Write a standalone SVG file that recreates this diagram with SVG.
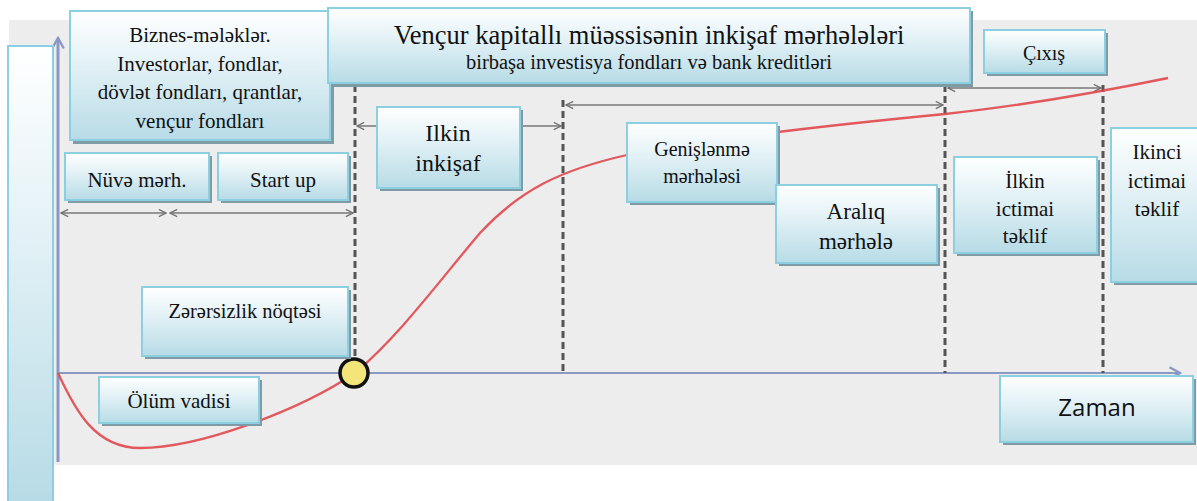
<svg xmlns="http://www.w3.org/2000/svg" width="1197" height="501" viewBox="0 0 1197 501">
<defs>
<linearGradient id="bg" x1="0" y1="0" x2="0" y2="1">
<stop offset="0" stop-color="#ffffff"/>
<stop offset="0.45" stop-color="#e0f0f5"/>
<stop offset="1" stop-color="#b7dbe6"/>
</linearGradient>
<marker id="ah" viewBox="0 0 10 10" refX="9" refY="5" markerWidth="9" markerHeight="9" orient="auto-start-reverse" markerUnits="userSpaceOnUse">
<path d="M1,1 L9,5 L1,9" fill="none" stroke="#6f6f6f" stroke-width="1.4"/>
</marker>
<marker id="axh" viewBox="0 0 12 12" refX="10" refY="6" markerWidth="14" markerHeight="14" orient="auto" markerUnits="userSpaceOnUse">
<path d="M1,1 L10,6 L1,11" fill="none" stroke="#8a98c4" stroke-width="2"/>
</marker>
</defs>
<style>
.box{fill:url(#bg);stroke:#8ccfe0;stroke-width:2}
.sh{fill:#7f9ba6}
.t{font-family:"Liberation Serif","DejaVu Serif","Times New Roman",serif;fill:#111;text-anchor:middle}
.s{font-family:"Open Sans","Liberation Sans",Arial,sans-serif;fill:#111;text-anchor:middle}
.dash{stroke:#555;stroke-width:3;stroke-dasharray:7,4;fill:none}
.dim{stroke:#777;stroke-width:1.5;fill:none;marker-start:url(#ah);marker-end:url(#ah)}
</style>
<rect x="9" y="20" width="1188" height="445" fill="#ededed"/>
<g id="connectors">
<line x1="58" y1="462" x2="58" y2="38" stroke="#8a98c4" stroke-width="3" marker-end="url(#axh)"/>
<line x1="58" y1="373" x2="1180" y2="373" stroke="#8a98c4" stroke-width="2" marker-end="url(#axh)"/>
<line class="dash" x1="355" y1="85" x2="355" y2="373"/>
<line class="dash" x1="563" y1="100" x2="563" y2="373"/>
<line class="dash" x1="945" y1="85" x2="945" y2="373"/>
<line class="dash" x1="1103" y1="85" x2="1103" y2="373"/>
<line class="dim" x1="61" y1="213" x2="166" y2="213"/>
<line class="dim" x1="170" y1="213" x2="353" y2="213"/>
<line class="dim" x1="357" y1="126" x2="561" y2="126"/>
<line class="dim" x1="566" y1="105" x2="943" y2="105"/>
<line class="dim" x1="948" y1="88" x2="1101" y2="88"/>
<path d="M58,373 C75,410 95,448 140,448 C200,448 300,410 355,373 C400,335 440,280 480,233 C520,190 560,170 627,155 C700,140 800,128 945,114 C1020,106 1100,92 1168,78" fill="none" stroke="#e0474c" stroke-width="2.3" opacity="0.9"/>
</g>
<g id="breakeven">
<circle cx="354" cy="373" r="14" fill="#f3e57a" stroke="#111" stroke-width="3.5"/>
</g>
<g id="left-box">
<rect class="box" x="8" y="46" width="45" height="456"/>
</g>
<g id="investors">
<rect class="sh" x="73" y="14" width="261" height="130"/>
<rect class="box" x="70" y="11" width="260" height="129"/>
<text class="t" font-size="21" x="200" y="42">Biznes-mələklər.</text>
<text class="t" font-size="21" x="200" y="71">Investorlar, fondlar,</text>
<text class="t" font-size="21" x="200" y="99">dövlət fondları, qrantlar,</text>
<text class="t" font-size="21" x="200" y="128">vençur fondları</text>
</g>
<g id="title">
<rect class="sh" x="331" y="11" width="642" height="76"/>
<rect class="box" x="328" y="8" width="642" height="75"/>
<text class="t" font-size="26.5" x="649" y="44">Vençur kapitallı müəssisənin inkişaf mərhələləri</text>
<text class="t" font-size="20.5" x="649" y="69">birbaşa investisya fondları və bank kreditləri</text>
</g>
<g id="nuve">
<rect class="sh" x="68" y="156" width="144" height="47"/>
<rect class="box" x="65" y="153" width="144" height="47"/>
<text class="t" font-size="21" x="137" y="187">Nüvə mərh.</text>
</g>
<g id="startup">
<rect class="sh" x="221" y="156" width="130" height="47"/>
<rect class="box" x="218" y="153" width="130" height="47"/>
<text class="t" font-size="21" x="283" y="187">Start up</text>
</g>
<g id="ilkin-inkisaf">
<rect class="sh" x="380" y="110" width="143" height="81"/>
<rect class="box" x="377" y="107" width="143" height="81"/>
<text class="t" font-size="24" x="448" y="141">Ilkin</text>
<text class="t" font-size="24" x="448" y="171">inkişaf</text>
</g>
<g id="genislenme">
<rect class="sh" x="630" y="126" width="150" height="79"/>
<rect class="box" x="627" y="123" width="150" height="79"/>
<text class="t" font-size="20" x="702" y="156">Genişlənmə</text>
<text class="t" font-size="20" x="702" y="183">mərhələsi</text>
</g>
<g id="araliq">
<rect class="sh" x="779" y="188" width="161" height="78"/>
<rect class="box" x="776" y="185" width="161" height="78"/>
<text class="t" font-size="23" x="856" y="219">Aralıq</text>
<text class="t" font-size="23" x="856" y="249">mərhələ</text>
</g>
<g id="ilkin-ictimai">
<rect class="sh" x="957" y="160" width="143" height="96"/>
<rect class="box" x="954" y="157" width="143" height="96"/>
<text class="t" font-size="21" x="1025" y="188">İlkin</text>
<text class="t" font-size="21" x="1025" y="216">ictimai</text>
<text class="t" font-size="21" x="1025" y="243">təklif</text>
</g>
<g id="ikinci">
<rect class="sh" x="1114" y="131" width="90" height="154"/>
<rect class="box" x="1111" y="128" width="90" height="154"/>
<text class="t" font-size="21" x="1157" y="159">Ikinci</text>
<text class="t" font-size="21" x="1157" y="188">ictimai</text>
<text class="t" font-size="21" x="1157" y="216">təklif</text>
</g>
<g id="cixis">
<rect class="sh" x="987" y="33" width="121" height="43"/>
<rect class="box" x="984" y="30" width="121" height="43"/>
<text class="t" font-size="20" x="1044" y="60">Çıxış</text>
</g>
<g id="zerersizlik">
<rect class="sh" x="145" y="290" width="206" height="69"/>
<rect class="box" x="142" y="287" width="206" height="69"/>
<text class="t" font-size="20.5" x="245" y="318">Zərərsizlik nöqtəsi</text>
</g>
<g id="olum">
<rect class="sh" x="102" y="380" width="160" height="46"/>
<rect class="box" x="99" y="377" width="160" height="46"/>
<text class="t" font-size="21" x="179" y="408">Ölüm vadisi</text>
</g>
<g id="zaman">
<rect class="sh" x="1003" y="379" width="193" height="66"/>
<rect class="box" x="1000" y="376" width="193" height="66"/>
<text class="s" font-size="24" x="1097" y="416">Zaman</text>
</g>
</svg>
